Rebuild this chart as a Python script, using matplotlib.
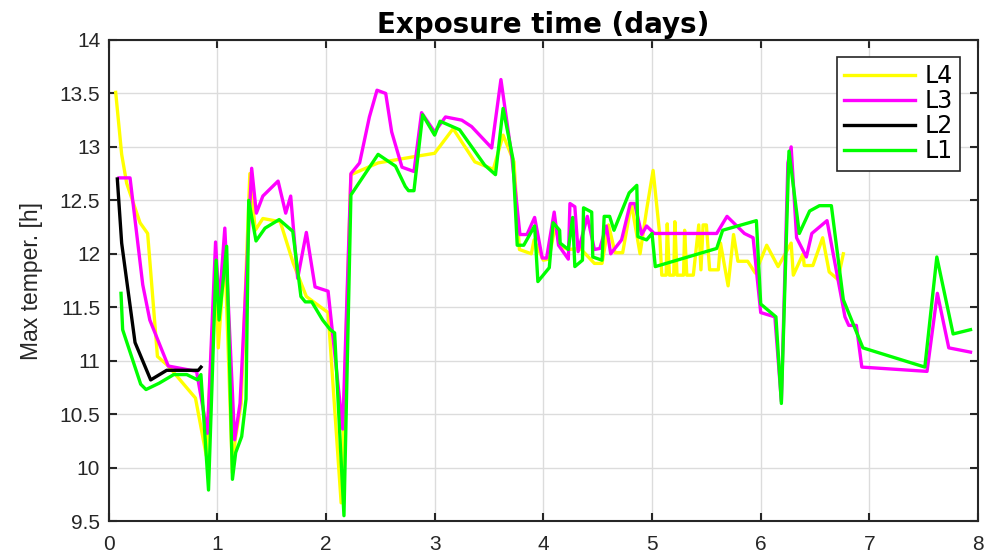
import numpy as np
import matplotlib
matplotlib.use("Agg")
import matplotlib.pyplot as plt

plt.rcParams['font.family'] = ['Liberation Sans', 'DejaVu Sans']

# L4 (yellow)
x_l4 = [0.066, 0.121, 0.167, 0.29, 0.36, 0.45, 0.55, 0.80, 0.90, 0.985, 1.01, 1.07,
        1.14, 1.165, 1.22, 1.30, 1.35, 1.42, 1.58, 1.70, 1.82, 2.02, 2.14, 2.23, 2.48,
        2.82, 3.00, 3.17, 3.37, 3.54, 3.63, 3.73, 3.78, 3.89, 3.915, 4.00, 4.05, 4.11,
        4.155, 4.23, 4.34, 4.47, 4.54, 4.60, 4.66, 4.73, 4.81, 4.89, 4.95, 5.01, 5.07,
        5.09, 5.13, 5.14, 5.16, 5.20, 5.21, 5.23, 5.29, 5.30, 5.32, 5.38, 5.43, 5.45,
        5.47, 5.50, 5.53, 5.61, 5.63, 5.70, 5.75, 5.79, 5.88, 5.95, 6.055, 6.16, 6.28,
        6.30, 6.39, 6.40, 6.48, 6.57, 6.63, 6.71, 6.76]
y_l4 = [13.51, 12.93, 12.66, 12.29, 12.19, 11.04, 10.95, 10.65, 10.11, 11.90, 11.12, 12.00,
        9.95, 10.26, 10.60, 12.75, 12.22, 12.33, 12.30, 11.91, 11.60, 11.45, 9.67, 12.74, 12.85,
        12.91, 12.94, 13.17, 12.86, 12.79, 13.11, 12.86, 12.04, 12.00, 12.13, 11.94, 11.95, 12.26,
        12.07, 12.04, 12.05, 11.91, 11.91, 12.27, 12.01, 12.01, 12.47, 12.00, 12.41, 12.78, 12.19,
        11.80, 11.80, 12.28, 11.80, 11.80, 12.30, 11.80, 11.80, 12.22, 11.80, 11.80, 12.27, 11.85,
        12.27, 12.27, 11.85, 11.85, 12.10, 11.70, 12.18, 11.93, 11.93, 11.82, 12.08, 11.88, 12.10,
        11.80, 12.00, 11.89, 11.89, 12.15, 11.83, 11.76, 12.00]

# L3 (magenta)
x_l3 = [0.097, 0.198, 0.315, 0.38, 0.55, 0.81, 0.91, 0.985, 1.017, 1.07, 1.16, 1.21,
        1.317, 1.36, 1.42, 1.56, 1.63, 1.676, 1.74, 1.82, 1.90, 2.02, 2.155, 2.23, 2.31,
        2.40, 2.47, 2.55, 2.605, 2.70, 2.81, 2.88, 3.00, 3.10, 3.25, 3.34, 3.525, 3.61,
        3.71, 3.785, 3.85, 3.92, 3.99, 4.03, 4.10, 4.14, 4.23, 4.245, 4.29, 4.32, 4.405,
        4.47, 4.52, 4.58, 4.62, 4.72, 4.80, 4.84, 4.905, 4.95, 5.02, 5.595, 5.69, 5.85,
        5.93, 6.00, 6.13, 6.19, 6.25, 6.28, 6.33, 6.42, 6.47, 6.61, 6.775, 6.81, 6.88,
        6.93, 7.53, 7.625, 7.73, 7.93]
y_l3 = [12.71, 12.71, 11.71, 11.38, 10.95, 10.90, 10.32, 12.11, 11.51, 12.24, 10.26, 10.60,
        12.80, 12.38, 12.54, 12.68, 12.38, 12.54, 11.77, 12.20, 11.69, 11.65, 10.36, 12.75, 12.85,
        13.28, 13.53, 13.50, 13.14, 12.81, 12.77, 13.32, 13.14, 13.28, 13.25, 13.19, 12.99, 13.63,
        12.91, 12.18, 12.18, 12.34, 11.96, 11.96, 12.39, 12.08, 11.95, 12.47, 12.44, 12.02, 12.35,
        12.04, 12.05, 12.26, 12.00, 12.13, 12.47, 12.47, 12.18, 12.26, 12.19, 12.19, 12.35, 12.19,
        12.15, 11.45, 11.41, 10.62, 12.85, 13.00, 12.15, 11.97, 12.19, 12.31, 11.41, 11.33, 11.33,
        10.94, 10.90, 11.63, 11.12, 11.08]

# L2 (black)
x_l2 = [0.081, 0.121, 0.244, 0.388, 0.535, 0.826, 0.851]
y_l2 = [12.70, 12.10, 11.17, 10.82, 10.91, 10.91, 10.94]

# L1 (green)
x_l1 = [0.115, 0.13, 0.296, 0.345, 0.467, 0.60, 0.72, 0.82, 0.85, 0.92, 0.99, 1.017,
        1.087, 1.14, 1.17, 1.225, 1.265, 1.29, 1.357, 1.44, 1.57, 1.695, 1.77, 1.81,
        1.87, 1.97, 2.04, 2.08, 2.166, 2.23, 2.48, 2.64, 2.73, 2.76, 2.81, 2.89, 3.00,
        3.05, 3.23, 3.46, 3.56, 3.63, 3.72, 3.76, 3.82, 3.92, 3.95, 4.055, 4.09, 4.15,
        4.155, 4.23, 4.27, 4.29, 4.36, 4.37, 4.445, 4.455, 4.54, 4.56, 4.61, 4.65, 4.79,
        4.86, 4.87, 4.95, 5.00, 5.03, 5.595, 5.65, 5.96, 6.00, 6.14, 6.19, 6.26, 6.355,
        6.45, 6.54, 6.65, 6.76, 6.94, 7.51, 7.62, 7.77, 7.93]
y_l1 = [11.63, 11.29, 10.78, 10.73, 10.79, 10.87, 10.87, 10.82, 10.87, 9.79, 11.94, 11.38,
        12.07, 9.89, 10.14, 10.29, 10.64, 12.50, 12.12, 12.24, 12.32, 12.21, 11.60, 11.55,
        11.55, 11.38, 11.29, 11.26, 9.55, 12.55, 12.93, 12.82, 12.63, 12.59, 12.59, 13.30, 13.11,
        13.24, 13.16, 12.83, 12.74, 13.36, 12.89, 12.08, 12.08, 12.26, 11.74, 11.87, 12.29, 12.22,
        12.10, 12.04, 12.34, 11.88, 11.94, 12.43, 12.39, 11.97, 11.94, 12.35, 12.35, 12.22, 12.57,
        12.64, 12.16, 12.13, 12.19, 11.88, 12.05, 12.22, 12.31, 11.53, 11.41, 10.60, 12.96, 12.19,
        12.40, 12.45, 12.45, 11.57, 11.12, 10.94, 11.97, 11.25, 11.29]

x_ticks = [0, 1, 2, 3, 4, 5, 6, 7, 8]
y_ticks = [9.5, 10, 10.5, 11, 11.5, 12, 12.5, 13, 13.5, 14]
y_tick_labels = ['9.5', '10', '10.5', '11', '11.5', '12', '12.5', '13', '13.5', '14']

fig = plt.figure(figsize=(9.91, 5.6), dpi=100)
ax = fig.add_axes([0.1095, 0.0696, 0.8775, 0.859])

lw = 2.4
ax.plot(x_l4, y_l4, color='#ffff00', lw=lw, label='L4')
ax.plot(x_l3, y_l3, color='#ff00ff', lw=lw, label='L3')
ax.plot(x_l2, y_l2, color='black', lw=lw, label='L2')
ax.plot(x_l1, y_l1, color='#00ff00', lw=lw, label='L1')

ax.set_xlim(0, 8)
ax.set_ylim(9.5, 14)
ax.set_xticks(x_ticks)
ax.set_yticks(y_ticks)
ax.set_yticklabels(y_tick_labels)
ax.grid(True, color='#dcdcdc', lw=1)
ax.tick_params(direction='in', length=6, width=1.5, top=True, right=True,
               labelsize=15, colors='#262626', pad=6)
ax.tick_params(axis='x', pad=10)
for s in ax.spines.values():
    s.set_color('#262626')
    s.set_linewidth(1.5)

ax.set_title('Exposure time (days)', fontsize=20, fontweight='bold', pad=5,
             family=['DejaVu Sans'])
ax.set_ylabel('Max temper. [h]', fontsize=16.5, color='#262626', labelpad=12)

leg = ax.legend(loc='upper right', bbox_to_anchor=(0.979, 0.965),
                prop={'family': 'DejaVu Sans', 'size': 17},
                fancybox=False, edgecolor='#262626', framealpha=1,
                handlelength=3.0, handletextpad=0.4, labelspacing=0.05,
                borderpad=0.3, borderaxespad=0)
leg.get_frame().set_linewidth(1.2)

fig.savefig('out.png', dpi=100)
